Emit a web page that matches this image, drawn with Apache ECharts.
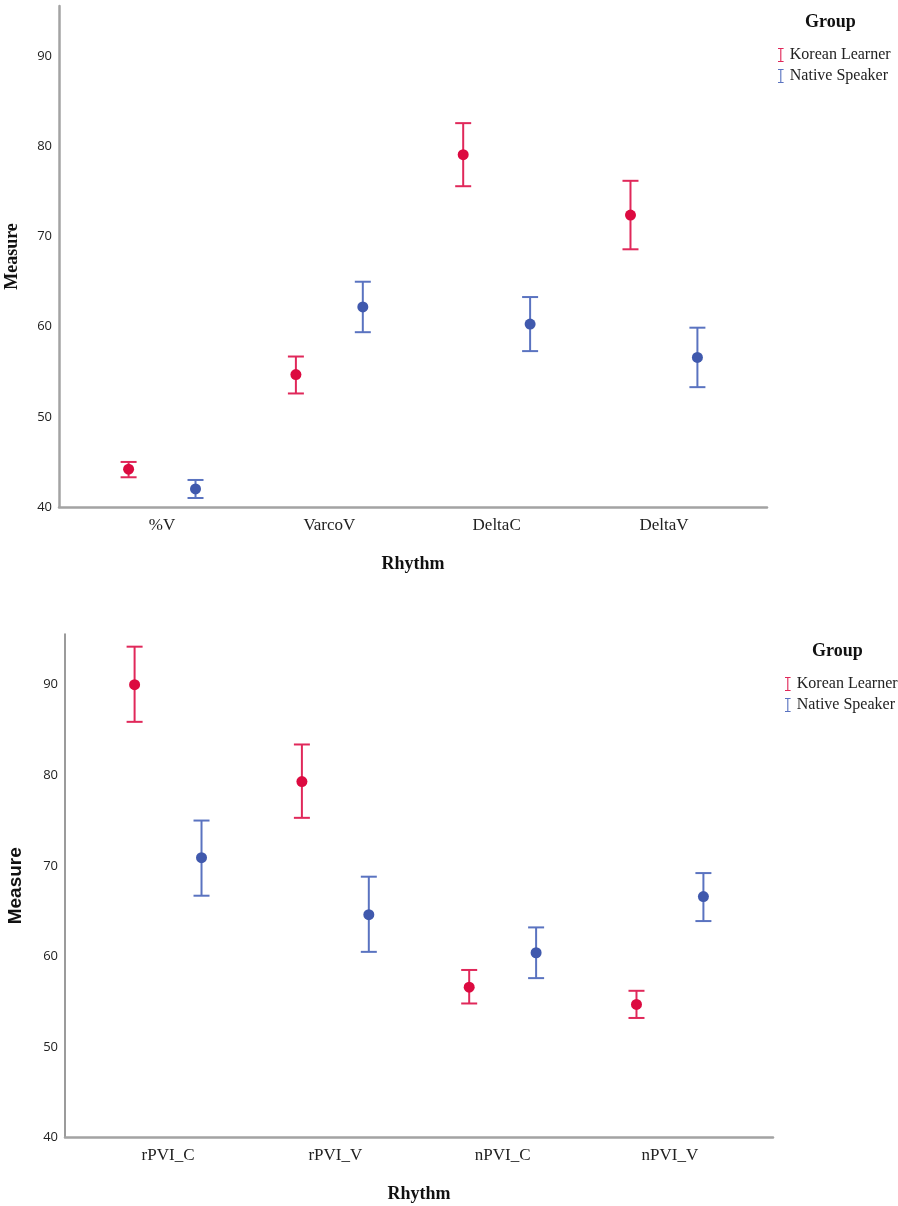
<!DOCTYPE html>
<html>
<head>
<meta charset="utf-8">
<script src="https://cdn.jsdelivr.net/npm/echarts@6/dist/echarts.min.js"></script>
<style>
html,body{margin:0;padding:0;background:#fff;}
#chart{width:898px;height:1206px;}
</style>
</head>
<body>
<div id="chart"></div>
<script>
// ---- Data ----
const categoriesTop = ['%V', 'VarcoV', 'DeltaC', 'DeltaV'];
const koreanTopMean = [44.2, 54.7, 79.1, 72.4];
const koreanTopLow  = [43.3, 52.6, 75.6, 68.6];
const koreanTopHigh = [45.0, 56.7, 82.6, 76.2];
const nativeTopMean = [42.0, 62.2, 60.3, 56.6];
const nativeTopLow  = [41.0, 59.4, 57.3, 53.3];
const nativeTopHigh = [43.0, 65.0, 63.3, 59.9];

const categoriesBottom = ['rPVI_C', 'rPVI_V', 'nPVI_C', 'nPVI_V'];
const koreanBotMean = [90.0, 79.3, 56.6, 54.7];
const koreanBotLow  = [85.9, 75.3, 54.8, 53.2];
const koreanBotHigh = [94.2, 83.4, 58.5, 56.2];
const nativeBotMean = [70.9, 64.6, 60.4, 66.6];
const nativeBotLow  = [66.7, 60.5, 57.6, 63.9];
const nativeBotHigh = [75.0, 68.8, 63.2, 69.2];

const yTicks = [40, 50, 60, 70, 80, 90];
const groups = ['Korean Learner', 'Native Speaker'];

// ---- Styles ----
const RED = '#dc0a40', RED_BAR = '#e0285a';
const BLUE = '#4059ad', BLUE_BAR = '#5a73c0';
const OFFSET = 0.2;

const chart = echarts.init(document.getElementById('chart'), null, {renderer: 'canvas'});

function pts(means, off) {
  return means.map((m, i) => [i + off, m]);
}
function bars(lows, highs, off) {
  return lows.map((l, i) => [i + off, l, highs[i]]);
}
function errRender(color) {
  return function (params, api) {
    const x = api.value(0);
    const lo = api.coord([x, api.value(1)]);
    const hi = api.coord([x, api.value(2)]);
    const w = 8;
    const style = {stroke: color, lineWidth: 2, fill: null};
    return {
      type: 'group',
      children: [
        {type: 'line', shape: {x1: lo[0], y1: lo[1], x2: hi[0], y2: hi[1]}, style: style},
        {type: 'line', shape: {x1: hi[0] - w, y1: hi[1], x2: hi[0] + w, y2: hi[1]}, style: style},
        {type: 'line', shape: {x1: lo[0] - w, y1: lo[1], x2: lo[0] + w, y2: lo[1]}, style: style}
      ]
    };
  };
}

function xAxisCfg(idx, cats, lineColor, lineWidth) {
  return {
    gridIndex: idx, type: 'value', min: -0.616, max: 3.616,
    name: 'Rhythm', nameLocation: 'middle', nameGap: 48,
    nameTextStyle: {fontFamily: 'Liberation Serif', fontWeight: 'bold', fontSize: 18, color: '#111'},
    axisLine: {show: true, onZero: false, lineStyle: {color: lineColor, width: lineWidth}},
    axisTick: {show: false},
    splitLine: {show: false},
    axisLabel: {
      customValues: [0, 1, 2, 3],
      formatter: v => cats[Math.round(v)],
      fontFamily: 'Liberation Serif', fontSize: 17, color: '#222', margin: 10
    }
  };
}
function yAxisCfg(idx, nameStyle, lineColor, lineWidth, gap) {
  return {
    gridIndex: idx, type: 'value', min: 40, max: 95.6,
    name: 'Measure', nameLocation: 'middle', nameRotate: 90, nameGap: gap,
    nameTextStyle: nameStyle,
    axisLine: {show: true, onZero: false, lineStyle: {color: lineColor, width: lineWidth}},
    axisTick: {show: false},
    splitLine: {show: false},
    axisLabel: {
      customValues: yTicks,
      fontFamily: 'Open Sans', fontSize: 13, color: '#222', margin: 7
    }
  };
}

const legendIcon = 'path://M0,0h8v1.6h-3.2v16.8h3.2v1.6h-8v-1.6h3.2v-16.8h-3.2z';

const option = {
  backgroundColor: '#fff',
  animation: false,
  grid: [
    {left: 59, right: 131, top: 6, height: 501, outerBoundsMode: 'none', containLabel: false},
    {left: 65, right: 125, top: 634, height: 503.5, outerBoundsMode: 'none', containLabel: false}
  ],
  xAxis: [
    xAxisCfg(0, categoriesTop, '#a3a3a3', 2.5),
    xAxisCfg(1, categoriesBottom, '#a3a3a3', 2.5)
  ],
  yAxis: [
    yAxisCfg(0, {fontFamily: 'Liberation Serif', fontWeight: 'bold', fontSize: 18, color: '#111'}, '#a3a3a3', 2.5, 38),
    yAxisCfg(1, {fontFamily: 'Liberation Sans', fontWeight: 'bold', fontSize: 19, color: '#111'}, '#7a7a7a', 1.5, 40)
  ],
  legend: [
    {
      orient: 'vertical', left: 773, top: 42, itemWidth: 8, itemHeight: 14, itemGap: 5,
      data: groups.map((g, i) => ({name: g, icon: legendIcon, itemStyle: {color: i ? BLUE_BAR : RED_BAR}})),
      textStyle: {fontFamily: 'Liberation Serif', fontSize: 16, color: '#222'},
      selectedMode: false
    },
    {
      orient: 'vertical', left: 780, top: 671, itemWidth: 8, itemHeight: 14, itemGap: 5,
      data: groups.map((g, i) => ({name: g, icon: legendIcon, itemStyle: {color: i ? BLUE_BAR : RED_BAR}})),
      textStyle: {fontFamily: 'Liberation Serif', fontSize: 16, color: '#222'},
      selectedMode: false
    }
  ],
  graphic: [
    {type: 'text', left: 805, top: 13, style: {text: 'Group', font: 'bold 18px "Liberation Serif"', fill: '#111'}},
    {type: 'text', left: 812, top: 642, style: {text: 'Group', font: 'bold 18px "Liberation Serif"', fill: '#111'}}
  ],
  series: [
    {name: groups[0], type: 'custom', xAxisIndex: 0, yAxisIndex: 0, renderItem: errRender(RED_BAR),
     data: bars(koreanTopLow, koreanTopHigh, -OFFSET), itemStyle: {color: RED_BAR}, z: 2},
    {name: groups[1], type: 'custom', xAxisIndex: 0, yAxisIndex: 0, renderItem: errRender(BLUE_BAR),
     data: bars(nativeTopLow, nativeTopHigh, OFFSET), itemStyle: {color: BLUE_BAR}, z: 2},
    {name: groups[0], type: 'scatter', xAxisIndex: 0, yAxisIndex: 0, symbolSize: 11,
     data: pts(koreanTopMean, -OFFSET), itemStyle: {color: RED, opacity: 1}, z: 3},
    {name: groups[1], type: 'scatter', xAxisIndex: 0, yAxisIndex: 0, symbolSize: 11,
     data: pts(nativeTopMean, OFFSET), itemStyle: {color: BLUE, opacity: 1}, z: 3},

    {name: groups[0], type: 'custom', xAxisIndex: 1, yAxisIndex: 1, renderItem: errRender(RED_BAR),
     data: bars(koreanBotLow, koreanBotHigh, -OFFSET), itemStyle: {color: RED_BAR}, z: 2},
    {name: groups[1], type: 'custom', xAxisIndex: 1, yAxisIndex: 1, renderItem: errRender(BLUE_BAR),
     data: bars(nativeBotLow, nativeBotHigh, OFFSET), itemStyle: {color: BLUE_BAR}, z: 2},
    {name: groups[0], type: 'scatter', xAxisIndex: 1, yAxisIndex: 1, symbolSize: 11,
     data: pts(koreanBotMean, -OFFSET), itemStyle: {color: RED, opacity: 1}, z: 3},
    {name: groups[1], type: 'scatter', xAxisIndex: 1, yAxisIndex: 1, symbolSize: 11,
     data: pts(nativeBotMean, OFFSET), itemStyle: {color: BLUE, opacity: 1}, z: 3}
  ]
};
chart.setOption(option);
</script>
</body>
</html>
